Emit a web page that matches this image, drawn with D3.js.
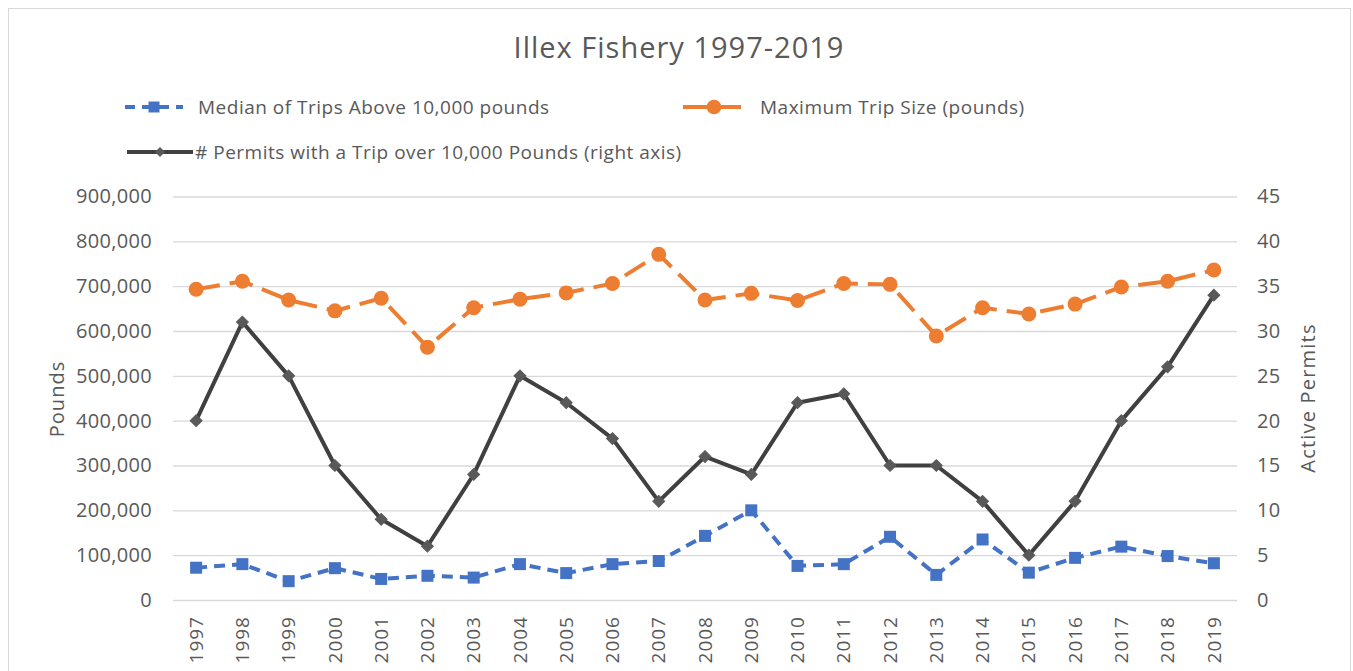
<!DOCTYPE html>
<html>
<head>
<meta charset="utf-8">
<script src="https://d3js.org/d3.v7.min.js"></script>
<style>
  body { margin: 0; background: #fff; }
  svg { display: block; font-family: "Open Sans", Lato, sans-serif; }
</style>
</head>
<body>
<svg width="1353" height="671"></svg>
<script>
// data
var years = ["1997", "1998", "1999", "2000", "2001", "2002", "2003", "2004", "2005", "2006", "2007", "2008",
             "2009", "2010", "2011", "2012", "2013", "2014", "2015", "2016", "2017", "2018", "2019"];
var medianTrips = [72000, 80000, 42000, 71000, 47000, 54000, 50000, 80000, 60000, 80000, 87000, 143000,
                   200000, 76000, 80000, 141000, 56000, 135000, 61000, 94000, 119000, 98000, 82000];
var maxTrip = [693000, 711000, 669000, 645000, 673000, 564000, 652000, 671000, 685000, 706000, 771000, 669000,
               684000, 668000, 706000, 704000, 589000, 652000, 638000, 660000, 698000, 711000, 736000];
var permits = [20, 31, 25, 15, 9, 6, 14, 25, 22, 18, 11, 16, 14, 22, 23, 15, 15, 11, 5, 11, 20, 26, 34];
var leftTicks = [0, 100000, 200000, 300000, 400000, 500000, 600000, 700000, 800000, 900000];
var rightTicks = [0, 5, 10, 15, 20, 25, 30, 35, 40, 45];

var textColor = "#595959";
var blue = "#4472c4", orange = "#ed7d31", dark = "#404040";

var svg = d3.select("svg");

// chart frame
svg.append("rect")
    .attr("x", 8.5).attr("y", 8.5)
    .attr("width", 1342).attr("height", 680)
    .attr("fill", "#fff")
    .attr("stroke", "#d9d9d9");

var plotLeft = 173, plotRight = 1237, plotTop = 196.5, plotBottom = 600;

var x = d3.scaleBand().domain(years).range([plotLeft, plotRight]);
var yL = d3.scaleLinear().domain([0, 900000]).range([plotBottom, plotTop]);
var yR = d3.scaleLinear().domain([0, 45]).range([plotBottom, plotTop]);
var cx = function (d, i) { return x(years[i]) + x.bandwidth() / 2; };

// title
svg.append("text")
    .attr("x", 679).attr("y", 58)
    .attr("text-anchor", "middle")
    .attr("font-size", 29)
    .attr("letter-spacing", 1)
    .attr("fill", textColor)
    .text("Illex Fishery 1997-2019");

// gridlines + left axis
var gl = svg.append("g")
    .attr("transform", "translate(" + plotLeft + ",0)")
    .call(d3.axisLeft(yL).tickValues(leftTicks).tickSize(-(plotRight - plotLeft)).tickPadding(21)
        .tickFormat(d3.format(",")));
gl.select(".domain").remove();
gl.selectAll(".tick line").attr("stroke", "#d9d9d9").attr("stroke-width", 1.3);
gl.selectAll(".tick text").attr("fill", textColor).attr("font-size", 20).attr("letter-spacing", 0.3)
    .attr("font-family", "Open Sans");

// right axis
var gr = svg.append("g")
    .attr("transform", "translate(" + plotRight + ",0)")
    .call(d3.axisRight(yR).tickValues(rightTicks).tickSize(0).tickPadding(20));
gr.select(".domain").remove();
gr.selectAll(".tick text").attr("fill", textColor).attr("font-size", 20).attr("letter-spacing", 0.3)
    .attr("font-family", "Open Sans");

// x axis labels, rotated
var gx = svg.append("g")
    .attr("transform", "translate(0," + plotBottom + ")")
    .call(d3.axisBottom(x).tickSize(0).tickPadding(0));
gx.select(".domain").remove();
gx.selectAll(".tick text")
    .attr("fill", textColor)
    .attr("font-size", 19)
    .attr("letter-spacing", 1)
    .attr("font-family", "Open Sans")
    .attr("text-anchor", "end")
    .attr("transform", "translate(0,16) rotate(-90)")
    .attr("dy", "0.35em")
    .attr("y", 0);

// axis titles
svg.append("text")
    .attr("transform", "translate(64,399) rotate(-90)")
    .attr("text-anchor", "middle")
    .attr("font-size", 20)
    .attr("letter-spacing", 1)
    .attr("fill", textColor)
    .text("Pounds");
svg.append("text")
    .attr("transform", "translate(1315,398) rotate(-90)")
    .attr("text-anchor", "middle")
    .attr("font-size", 20)
    .attr("letter-spacing", 1.2)
    .attr("fill", textColor)
    .text("Active Permits");

// series
var lineL = d3.line().x(cx).y(function (d) { return yL(d); });
var lineR = d3.line().x(cx).y(function (d) { return yR(d); });

svg.append("path")
    .datum(permits)
    .attr("d", lineR)
    .attr("fill", "none")
    .attr("stroke", dark)
    .attr("stroke-width", 4)
    .attr("stroke-linejoin", "round");
svg.selectAll(".diamond")
    .data(permits)
    .enter()
    .append("path")
    .attr("class", "diamond")
    .attr("d", d3.symbol(d3.symbolSquare, 70))
    .attr("transform", function (d, i) { return "translate(" + cx(d, i) + "," + yR(d) + ") rotate(45)"; })
    .attr("fill", "#595959")
    .attr("stroke", "#595959")
    .attr("stroke-width", 1);

svg.append("path")
    .datum(maxTrip)
    .attr("d", lineL)
    .attr("fill", "none")
    .attr("stroke", orange)
    .attr("stroke-width", 4)
    .attr("stroke-dasharray", "24,10");
svg.selectAll(".dot")
    .data(maxTrip)
    .enter()
    .append("circle")
    .attr("class", "dot")
    .attr("cx", cx)
    .attr("cy", function (d) { return yL(d); })
    .attr("r", 7.5)
    .attr("fill", orange);

svg.append("path")
    .datum(medianTrips)
    .attr("d", lineL)
    .attr("fill", "none")
    .attr("stroke", blue)
    .attr("stroke-width", 4)
    .attr("stroke-dasharray", "11,7");
svg.selectAll(".sq")
    .data(medianTrips)
    .enter()
    .append("rect")
    .attr("class", "sq")
    .attr("x", function (d, i) { return cx(d, i) - 6; })
    .attr("y", function (d) { return yL(d) - 6; })
    .attr("width", 12)
    .attr("height", 12)
    .attr("fill", blue);

// legend
var legend = [
    {name: "Median of Trips Above 10,000 pounds", x0: 125, x1: 183, tx: 198, y: 107, color: blue, dash: "10,7", mark: "square"},
    {name: "Maximum Trip Size (pounds)", x0: 683, x1: 745, tx: 760, y: 107, color: orange, dash: "24,10", mark: "circle"},
    {name: "# Permits with a Trip over 10,000 Pounds (right axis)", x0: 127, x1: 193, tx: 195, y: 152, color: dark, dash: null, mark: "diamond"}
];
var lg = svg.selectAll(".legend")
    .data(legend)
    .enter()
    .append("g")
    .attr("class", "legend");
lg.append("line")
    .attr("x1", function (d) { return d.x0; })
    .attr("x2", function (d) { return d.x1; })
    .attr("y1", function (d) { return d.y; })
    .attr("y2", function (d) { return d.y; })
    .attr("stroke", function (d) { return d.color; })
    .attr("stroke-width", 4)
    .attr("stroke-dasharray", function (d) { return d.dash; });
lg.append("path")
    .attr("d", function (d) {
        if (d.mark == "circle") return d3.symbol(d3.symbolCircle, 170)();
        if (d.mark == "square") return d3.symbol(d3.symbolSquare, 121)();
        return d3.symbol(d3.symbolSquare, 50)();
    })
    .attr("transform", function (d) {
        return "translate(" + (d.x0 + d.x1) / 2 + "," + d.y + ")" + (d.mark == "diamond" ? " rotate(45)" : "");
    })
    .attr("fill", function (d) { return d.mark == "diamond" ? "#595959" : d.color; });
lg.append("text")
    .attr("x", function (d) { return d.tx; })
    .attr("y", function (d) { return d.y; })
    .attr("dy", "0.35em")
    .attr("font-size", 19)
    .attr("letter-spacing", 0.5)
    .attr("fill", textColor)
    .text(function (d) { return d.name; });
</script>
</body>
</html>
